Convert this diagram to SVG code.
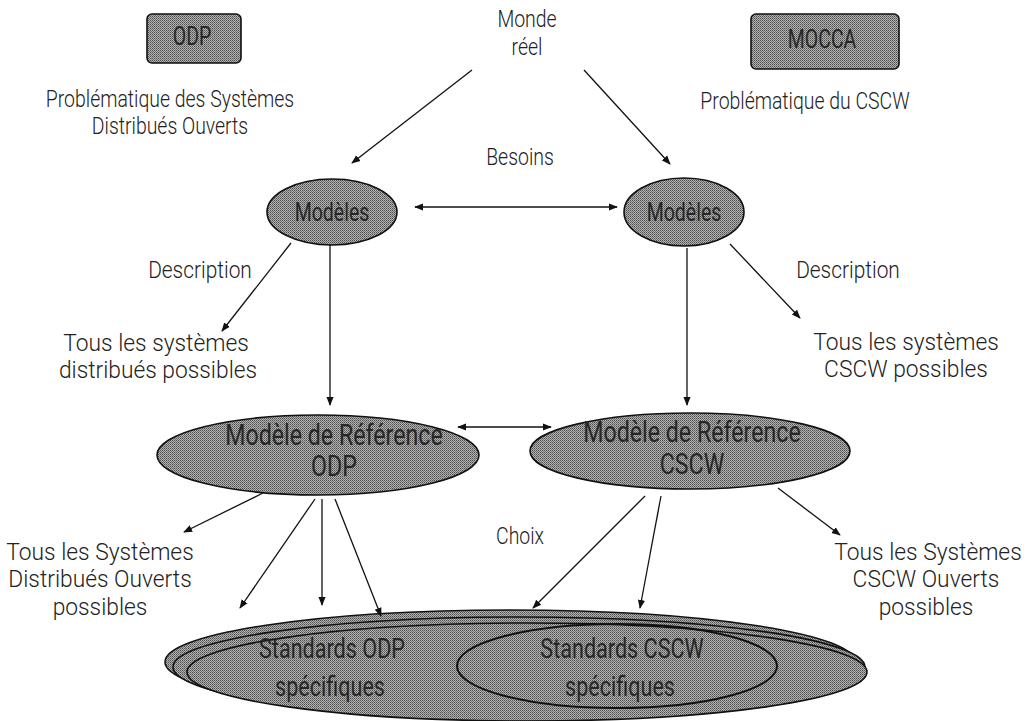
<svg xmlns="http://www.w3.org/2000/svg" width="1033" height="721" viewBox="0 0 1033 721">
  <defs>
    <!-- halftone grey used for every filled shape -->
    <pattern id="grain" width="2" height="2" patternUnits="userSpaceOnUse">
      <rect width="2" height="2" fill="#b4b4b4"/>
      <rect width="1" height="1" fill="#4a4a4a"/>
      <rect x="1" y="1" width="1" height="1" fill="#707070"/>
    </pattern>
    <marker id="arr" viewBox="0 0 10 10" refX="9" refY="5" markerWidth="9" markerHeight="9" markerUnits="userSpaceOnUse" orient="auto-start-reverse">
      <path d="M0,1 L10,5 L0,9 Z" fill="#111"/>
    </marker>
    <style>
      text { font-family: Roboto, "Liberation Sans", sans-serif; font-weight: 300; font-size: 24px; fill: #222; text-anchor: middle;
             transform-box: fill-box; transform-origin: center; transform: scaleX(0.81); }
      .wide { transform: scaleX(0.95); }
      .mid { transform: scaleX(0.87); }
      .in { fill: #262626; font-weight: 400; font-size: 25px; transform: scaleX(0.78); }
      .big { font-size: 29px; transform: scaleX(0.8); }
      .std { font-size: 27px; transform: scaleX(0.8); }
      .shape { fill: url(#grain); stroke: #111; stroke-width: 1.6; }
      .line { fill: none; stroke: #111; stroke-width: 1.3; marker-end: url(#arr); }
      .both { marker-start: url(#arr); }
      .ring { fill: none; stroke: #111; stroke-width: 2; }
    </style>
  </defs>

  <!-- headings -->
  <g id="odp-box">
    <rect class="shape" x="147" y="14" width="94" height="49" rx="5"/>
    <text class="in" x="192" y="45">ODP</text>
  </g>
  <g id="mocca-box">
    <rect class="shape" x="751" y="14" width="148" height="55" rx="5"/>
    <text class="in" x="822" y="48">MOCCA</text>
  </g>
  <g id="odp-topic">
    <text x="170" y="107">Problématique des Systèmes</text>
    <text x="170" y="134">Distribués Ouverts</text>
  </g>
  <g id="cscw-topic">
    <text x="805" y="109">Problématique du CSCW</text>
  </g>
  <g id="monde">
    <text x="527" y="27">Monde</text>
    <text x="527" y="55">réel</text>
  </g>
  <g id="labels">
    <text x="520" y="165">Besoins</text>
    <text class="mid" x="200" y="278">Description</text>
    <text class="mid" x="848" y="278">Description</text>
    <text x="520" y="544">Choix</text>
  </g>

  <!-- model level -->
  <g id="modeles-odp">
    <ellipse class="shape" cx="332" cy="212" rx="65" ry="33"/>
    <text class="in" x="332" y="221">Modèles</text>
  </g>
  <g id="modeles-cscw">
    <ellipse class="shape" cx="684" cy="212" rx="60" ry="34"/>
    <text class="in" x="684" y="221">Modèles</text>
  </g>
  <g id="systemes-distribues">
    <text class="wide" x="156" y="351">Tous les systèmes</text>
    <text class="wide" x="158" y="378">distribués possibles</text>
  </g>
  <g id="systemes-cscw">
    <text class="wide" x="906" y="350">Tous les systèmes</text>
    <text class="wide" x="906" y="377">CSCW possibles</text>
  </g>

  <!-- reference models -->
  <g id="reference-odp">
    <ellipse class="shape" cx="318" cy="455" rx="161" ry="40"/>
    <text class="in big" x="334" y="445">Modèle de Référence</text>
    <text class="in big" x="334" y="476">ODP</text>
  </g>
  <g id="reference-cscw">
    <ellipse class="shape" cx="690" cy="451" rx="160" ry="38"/>
    <text class="in big" x="692" y="442">Modèle de Référence</text>
    <text class="in big" x="692" y="474">CSCW</text>
  </g>
  <g id="sdo-possibles">
    <text class="wide" x="100" y="560">Tous les Systèmes</text>
    <text class="wide" x="100" y="587">Distribués Ouverts</text>
    <text class="wide" x="100" y="615">possibles</text>
  </g>
  <g id="cscw-possibles">
    <text class="wide" x="928" y="560">Tous les Systèmes</text>
    <text class="wide" x="926" y="587">CSCW Ouverts</text>
    <text class="wide" x="926" y="615">possibles</text>
  </g>

  <!-- standards: three stacked discs with the CSCW subset inside -->
  <g id="standards">
    <ellipse class="shape" cx="510" cy="662" rx="345" ry="52"/>
    <ellipse class="shape" cx="519" cy="667" rx="346" ry="50"/>
    <ellipse class="shape" cx="527" cy="672" rx="340" ry="49"/>
    <ellipse class="ring" cx="617" cy="666" rx="160" ry="42"/>
    <text class="in std" x="332" y="658">Standards ODP</text>
    <text class="in std" x="330" y="696">spécifiques</text>
    <text class="in std" x="622" y="658">Standards CSCW</text>
    <text class="in std" x="620" y="696">spécifiques</text>
  </g>

  <!-- connectors -->
  <g id="connectors">
    <line class="line" x1="472" y1="70" x2="352" y2="163"/>
    <line class="line" x1="584" y1="70" x2="670" y2="164"/>
    <line class="line both" x1="415" y1="207" x2="617" y2="207"/>
    <line class="line" x1="291" y1="243" x2="222" y2="331"/>
    <line class="line" x1="730" y1="244" x2="800" y2="318"/>
    <line class="line" x1="330" y1="245" x2="330" y2="405"/>
    <line class="line" x1="687" y1="248" x2="687" y2="405"/>
    <line class="line both" x1="458" y1="427" x2="551" y2="427"/>
    <line class="line" x1="263" y1="493" x2="184" y2="532"/>
    <line class="line" x1="315" y1="499" x2="240" y2="608"/>
    <line class="line" x1="322" y1="499" x2="322" y2="605"/>
    <line class="line" x1="335" y1="499" x2="381" y2="616"/>
    <line class="line" x1="645" y1="496" x2="533" y2="608"/>
    <line class="line" x1="661" y1="496" x2="640" y2="608"/>
    <line class="line" x1="778" y1="488" x2="840" y2="535"/>
  </g>
</svg>
